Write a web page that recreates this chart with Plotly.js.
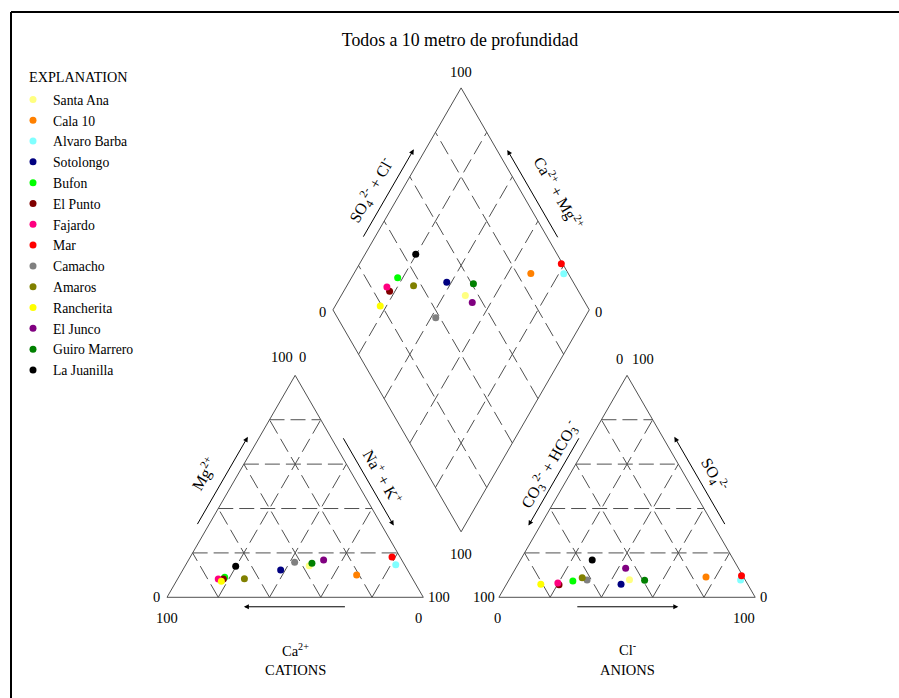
<!DOCTYPE html>
<html>
<head>
<meta charset="utf-8">
<script src="https://cdn.plot.ly/plotly-3.0.1.min.js"></script>
<style>html,body{margin:0;padding:0;background:#fff;}#chart{width:899px;height:698px;}</style>
</head>
<body>
<div id="chart"></div>
<script>
// ---- Data (percent of meq/L) ----
const samples = ["Santa Ana","Cala 10","Alvaro Barba","Sotolongo","Bufon","El Punto","Fajardo","Mar","Camacho","Amaros","Rancherita","El Junco","Guiro Marrero","La Juanilla"];
const colors  = ["#ffff80","#ff8000","#80ffff","#000080","#00ff00","#800000","#ff0080","#ff0000","#808080","#808000","#ffff00","#800080","#008000","#000000"];
const caPct   = [37.4, 21.0,  3.4, 49.5, 73.0, 73.9, 75.9,  3.1, 42.3, 65.6, 75.2, 30.5, 35.8, 66.2];
const mgPct   = [14.2, 10.0, 14.7, 12.3,  9.0,  8.2,  8.2, 18.2, 15.8,  8.4,  7.2, 16.8, 15.3, 14.0];
const naKPct  = [48.4, 69.0, 81.9, 38.2, 18.0, 17.9, 15.9, 78.7, 41.9, 26.0, 17.6, 52.7, 48.9, 19.8];
const hco3Pct = [45.1, 14.6,  1.8, 49.4, 67.5, 73.7, 73.8,  0.5, 61.7, 63.1, 80.7, 44.0, 39.3, 55.2];
const so4Pct  = [ 7.9,  9.2,  7.8,  5.9,  7.3,  5.7,  6.4,  9.7,  7.8,  8.8,  5.9, 13.1,  7.7, 16.8];
const clPct   = [47.0, 76.2, 90.4, 44.7, 25.2, 20.6, 19.8, 89.8, 30.5, 28.1, 13.4, 42.9, 53.0, 28.0];
const gridLevels = [20, 40, 60, 80];
const titleText = "Todos a 10 metro de profundidad";

// ---- Piper geometry (unit = triangle side) ----
const H = Math.sqrt(3) / 2;
const GAP = 0.295;
const FONT = "Liberation Serif, Times New Roman, serif";
const cBL = [0, 0], cBR = [1, 0], cT = [0.5, H];
const aBL = [1 + GAP, 0], aBR = [2 + GAP, 0], aT = [1.5 + GAP, H];
const dB = [1 + GAP / 2, GAP * H], dL = [0.5 + GAP / 2, H + GAP * H],
      dR = [1.5 + GAP / 2, H + GAP * H], dT = [1 + GAP / 2, 2 * H + GAP * H];

function catXY(mg, na) { const m = mg / 100, n = na / 100; return [n + m / 2, m * H]; }
function aniXY(so4, cl) { const s = so4 / 100, c = cl / 100; return [aBL[0] + c + s / 2, s * H]; }
function diaXY(caMg, so4Cl) {
  const v = caMg / 100, u = so4Cl / 100;
  return [dB[0] + 0.5 * (u - v), dB[1] + H * (u + v)];
}
function lerp(A, B, t) { return [A[0] + (B[0] - A[0]) * t, A[1] + (B[1] - A[1]) * t]; }
function edgePt(A, B, t, d) {
  const dx = B[0] - A[0], dy = B[1] - A[1], L = Math.hypot(dx, dy);
  const p = lerp(A, B, t);
  return [p[0] - dy / L * d, p[1] + dx / L * d];
}

// ---- Traces ----
const traces = samples.map((name, i) => {
  const c = catXY(mgPct[i], naKPct[i]);
  const a = aniXY(so4Pct[i], clPct[i]);
  const d = diaXY(caPct[i] + mgPct[i], so4Pct[i] + clPct[i]);
  return {
    type: "scatter", mode: "markers", name: name,
    x: [c[0], a[0], d[0]], y: [c[1], a[1], d[1]],
    marker: { color: colors[i], size: 7, line: { width: 0 } },
    hoverinfo: "skip"
  };
});

// ---- Shapes: outlines and dashed grids ----
const shapes = [];
const OUT = { color: "#505050", width: 1 };
const GRID = { color: "#505050", width: 1, dash: "15px,6px" };
function seg(P, Q, line) {
  shapes.push({ type: "line", xref: "x", yref: "y", x0: P[0], y0: P[1], x1: Q[0], y1: Q[1], line: line, layer: "below" });
}
function triangle(BL, BR, T) {
  seg(BL, BR, OUT); seg(BR, T, OUT); seg(T, BL, OUT);
  gridLevels.forEach(g => {
    const k = g / 100;
    seg(lerp(BL, T, k), lerp(BR, T, k), GRID);   // horizontal
    seg(lerp(BL, BR, k), lerp(T, BR, k), GRID);  // parallel to left edge
    seg(lerp(BR, BL, k), lerp(T, BL, k), GRID);  // parallel to right edge
  });
}
triangle(cBL, cBR, cT);
triangle(aBL, aBR, aT);
seg(dB, dR, OUT); seg(dR, dT, OUT); seg(dT, dL, OUT); seg(dL, dB, OUT);
gridLevels.forEach(g => {
  const k = g / 100;
  seg(lerp(dB, dR, k), lerp(dL, dT, k), GRID);
  seg(lerp(dB, dL, k), lerp(dR, dT, k), GRID);
});
// frame
shapes.push({ type: "line", xref: "paper", yref: "paper", x0: 11 / 899, y0: 1 - 12 / 698, x1: 1, y1: 1 - 12 / 698, line: { color: "#000", width: 2 } });
shapes.push({ type: "line", xref: "paper", yref: "paper", x0: 11 / 899, y0: 0, x1: 11 / 899, y1: 1 - 12 / 698, line: { color: "#000", width: 2 } });

// ---- Annotations ----
const ann = [];
function txt(P, text, size, angle) {
  ann.push({ x: P[0], y: P[1], xref: "x", yref: "y", text: text, showarrow: false, textangle: angle || 0,
             font: { family: FONT, size: size, color: "#000" } });
}
function arrow(A, B, t0, t1, d) {
  const tail = edgePt(A, B, t0, d), head = edgePt(A, B, t1, d);
  ann.push({ x: head[0], y: head[1], ax: tail[0], ay: tail[1], xref: "x", yref: "y", axref: "x", ayref: "y",
             text: "", showarrow: true, arrowhead: 2, arrowsize: 1, arrowwidth: 1, arrowcolor: "#000" });
}
function add(P, dx, dy) { return [P[0] + dx, P[1] + dy]; }
const NUM = 14.5;
// cation triangle
arrow(cBL, cT, 0.3, 0.7, 0.04);
arrow(cT, cBR, 0.3, 0.7, 0.04);
arrow(cBR, cBL, 0.3, 0.7, 0.037);
txt(edgePt(cBL, cT, 0.49, 0.115), "Mg<sup>2+</sup>", 16, -60);
txt(edgePt(cT, cBR, 0.515, 0.10), "Na<sup>+</sup> + K<sup>+</sup>", 16, 60);
txt(add(cBL, -0.04, 0), "0", NUM);
txt(add(cBR, 0.063, 0), "100", NUM);
txt(add(cBL, 0, -0.082), "100", NUM);
txt(add(cBR, -0.02, -0.082), "0", NUM);
txt(add(cT, -0.05, 0.07), "100", NUM);
txt(add(cT, 0.027, 0.07), "0", NUM);
txt([0.5, -0.205], "Ca<sup>2+</sup>", 14.5);
txt([0.5, -0.285], "CATIONS", 14.5);
// anion triangle
arrow(aBL, aT, 0.7, 0.3, 0.04);
arrow(aT, aBR, 0.7, 0.3, 0.04);
arrow(aBR, aBL, 0.7, 0.3, 0.037);
txt(edgePt(aBL, aT, 0.55, 0.09), "CO<sub>3</sub><sup>2-</sup> + HCO<sub>3</sub><sup>-</sup>", 16, -60);
txt(edgePt(aT, aBR, 0.508, 0.10), "SO<sub>4</sub><sup>2-</sup>", 16, 60);
txt(add(aBL, -0.059, 0), "100", NUM);
txt(add(aBR, 0.034, 0), "0", NUM);
txt(add(aBL, -0.004, -0.082), "0", NUM);
txt(add(aBR, -0.044, -0.082), "100", NUM);
txt(add(aT, -0.03, 0.065), "0", NUM);
txt(add(aT, 0.061, 0.065), "100", NUM);
txt([aT[0], -0.2], "Cl<sup>-</sup>", 14.5);
txt([aT[0], -0.282], "ANIONS", 14.5);
// diamond
arrow(dL, dT, 0.3, 0.7, 0.04);
arrow(dT, dR, 0.7, 0.3, 0.035);
txt(edgePt(dL, dT, 0.48, 0.105), "SO<sub>4</sub><sup>2-</sup> + Cl<sup>-</sup>", 16, -60);
txt(edgePt(dT, dR, 0.547, 0.125), "Ca<sup>2+</sup> + Mg<sup>2+</sup>", 16, 60);
txt(add(dT, 0, 0.062), "100", NUM);
txt(add(dL, -0.042, -0.008), "0", NUM);
txt(add(dR, 0.036, -0.008), "0", NUM);
txt(add(dB, 0, -0.087), "100", NUM);
// legend heading
ann.push({ x: 27 / 899, y: 1 - 77 / 698, xref: "paper", yref: "paper", xanchor: "left", yanchor: "middle",
           text: "EXPLANATION", showarrow: false, font: { family: FONT, size: 14.2, color: "#000" } });

// ---- Layout ----
const PX = 256.3;
const x0 = -167 / PX, y0 = -(698 - 597.3) / PX;
const layout = {
  width: 899, height: 698,
  margin: { l: 0, r: 0, t: 0, b: 0, pad: 0 },
  paper_bgcolor: "#fff", plot_bgcolor: "#fff",
  title: { text: titleText, x: 460 / 899, xanchor: "center", y: 1 - 40 / 698, yanchor: "middle",
           font: { family: FONT, size: 17.8, color: "#000" } },
  xaxis: { range: [x0, x0 + 899 / PX], visible: false, fixedrange: true },
  yaxis: { range: [y0, y0 + 698 / PX], visible: false, fixedrange: true },
  showlegend: true,
  legend: { x: 13 / 899, xanchor: "left", y: 1 - 84 / 698, yanchor: "top",
            font: { family: FONT, size: 13.7, color: "#000" }, bgcolor: "rgba(0,0,0,0)", borderwidth: 0 },
  shapes: shapes,
  annotations: ann,
  hovermode: false
};
Plotly.newPlot("chart", traces, layout, { staticPlot: true, displayModeBar: false });
</script>
</body>
</html>
